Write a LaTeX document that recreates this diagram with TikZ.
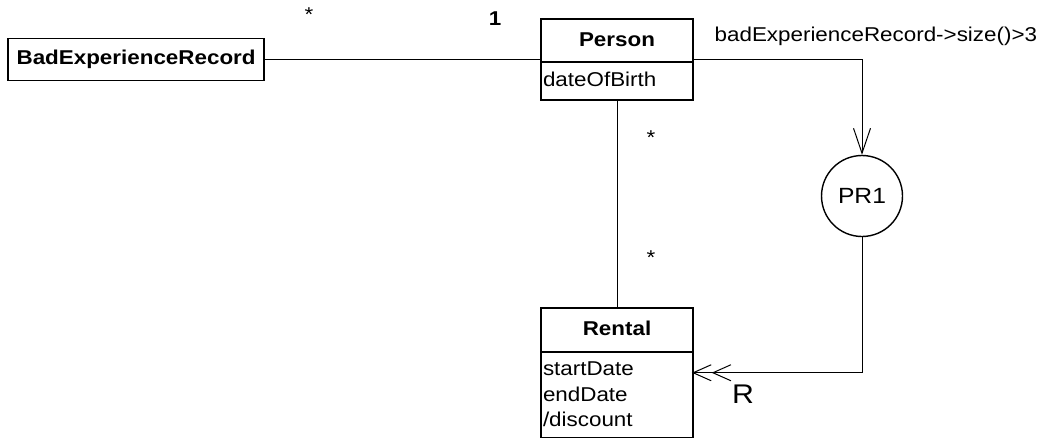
\documentclass[tikz,border=0pt]{standalone}
\usepackage{fontspec}
\setmainfont[FakeStretch=1.12]{Liberation Sans}
\usetikzlibrary{shapes.multipart}
\usetikzlibrary{arrows.meta,positioning}

% class name line, centred over the whole box width
\newcommand{\classname}[2]{\hbox to \hsize{\hfil\rule[-9.75pt]{0pt}{#1}\textbf{#2}\hfil}}

\begin{document}
\begin{tikzpicture}[x=1pt,y=1pt,semithick,node distance=2cm]
			\tikzstyle{every node}=[font=\fontsize{20}{25.5}\selectfont]
			\tikzstyle{classbox}=[draw=black,line width=1.9pt,rectangle split,rectangle split parts=2,text width=148pt,align=left,inner xsep=2pt,inner ysep=5.25pt]
			\tikzstyle{mult}=[inner sep=0pt]
			\tikzstyle{link}=[line width=1pt]
			\useasboundingbox (0,0) rectangle (1038,-437);
			\node[classbox]    (person) at (617,-59.5)   {\classname{30.5pt}{Person}\nodepart{two}\strut dateOfBirth};
			\node[classbox]    (rental)[below=206pt of person]   {\classname{31.5pt}{Rental}\nodepart{two}startDate\strut\\endDate\\/discount\rule[-4.75pt]{0pt}{1pt}};
			\node[draw=black,line width=1.9pt,minimum width=256pt,minimum height=42pt,font=\fontsize{20}{25.5}\selectfont\bfseries]    (ber)[left=275pt of person]   {BadExperienceRecord};
			\node[circle,draw=black,line width=1.4pt,minimum size=81pt,inner sep=0pt,font=\fontsize{22}{26}\selectfont]    (pr1) at (862,-196)   {PR1};
			% constraint and role labels
			\node[anchor=base west]    (cons) at (711,-41)   {badExperienceRecord->size()>3};
			\node[anchor=base,font=\fontsize{27}{30}\selectfont]    (role) at (743,-403)   {R};
			% multiplicities
			\node[mult]    (m1) at (309,-15)   {*};
			\node[mult,font=\fontsize{20}{25.5}\selectfont\bfseries]    (m2) at (495,-19)   {1};
			\node[mult]    (m3) at (651,-138)   {*};
			\node[mult]    (m4) at (651,-258)   {*};
			\path[link]
			(ber) edge (person)
			(person) edge (rental);
			\draw[link,-{Straight Barb[length=25pt,width=17pt]}] (person.east) -| (pr1.north);
			\draw[link,-{Straight Barb[length=18pt,width=16pt]Straight Barb[length=18pt,width=16pt,sep=-2pt]}] (pr1.south) |- (rental.east);
		\end{tikzpicture}
\end{document}
